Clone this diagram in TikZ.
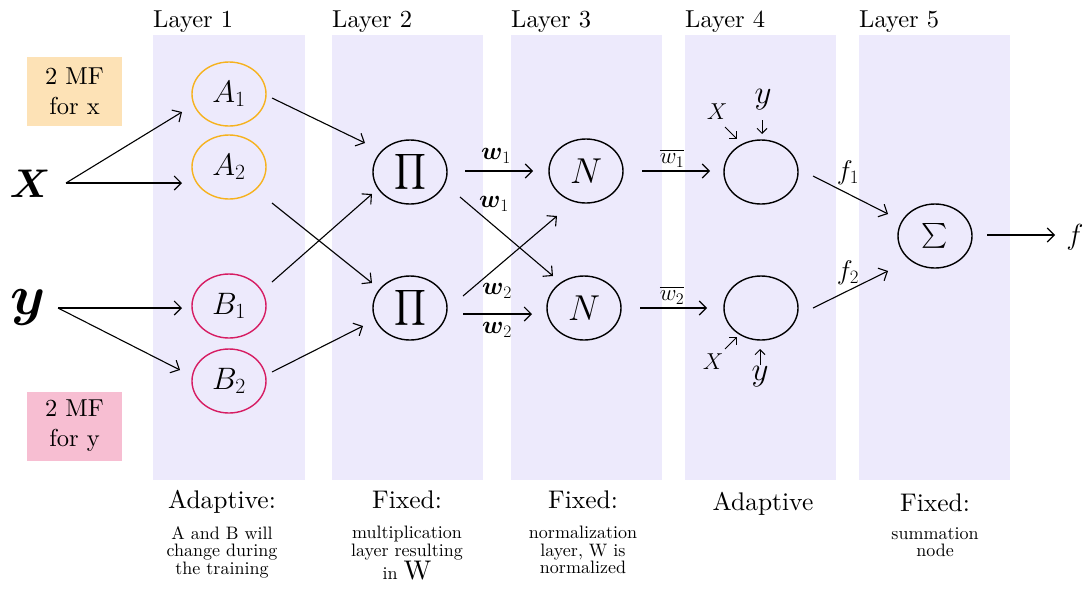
\RequirePackage{fix-cm}
\documentclass[tikz,border=0pt]{standalone}
\usepackage{amsmath}
\usepackage{fontspec}
\setmainfont{lmroman10-regular.otf}[BoldFont=lmroman10-bold.otf, ItalicFont=lmroman10-italic.otf, BoldItalicFont=lmroman10-bolditalic.otf]
\usetikzlibrary{shapes.geometric,arrows.meta,calc}
\definecolor{lav}{RGB}{237,234,252}
\definecolor{ambr}{RGB}{246,178,30}
\definecolor{crim}{RGB}{214,28,98}
\definecolor{peach}{RGB}{253,226,182}
\definecolor{rose}{RGB}{247,190,210}
\newcommand\fsz[1]{\fontsize{#1}{#1}\selectfont}
\tikzset{
  band/.style={fill=lav, draw=none},
  unit/.style={ellipse, draw, line width=1.4pt, minimum width=74pt, minimum height=64pt, inner sep=0pt},
  arr/.style={-{Straight Barb[length=7pt,width=14pt]}, line width=1.1pt},
  sarr/.style={-{Straight Barb[length=5pt,width=10pt]}, line width=1pt},
  layerlbl/.style={anchor=base west, inner sep=0pt, font=\fsz{24.5}},
  mfbox/.style={minimum width=95pt, minimum height=69pt, align=center, inner sep=0pt, font=\fontsize{24.5}{30}\selectfont},
  title/.style={anchor=base, inner sep=0pt, font=\fsz{25.5}},
  body/.style={anchor=north, inner sep=0pt, align=center, font=\fontsize{18}{17.5}\selectfont},
  elbl/.style={inner sep=0pt},
}
\begin{document}
\begin{tikzpicture}[x=1pt,y=-1pt]
\useasboundingbox (0,0) rectangle (1087,590);
% bands
\fill[band] (153,35) rectangle (305,480);
\fill[band] (332,35) rectangle (483,480);
\fill[band] (511,35) rectangle (662,480);
\fill[band] (685,35) rectangle (836,480);
\fill[band] (859,35) rectangle (1010,480);
% layer labels
\node[layerlbl] (L1lbl) at (153,27) {Layer 1};
\node[layerlbl] (L2lbl) at (332,27) {Layer 2};
\node[layerlbl] (L3lbl) at (511,27) {Layer 3};
\node[layerlbl] (L4lbl) at (685,27) {Layer 4};
\node[layerlbl] (L5lbl) at (859,27) {Layer 5};
% MF boxes
\node[mfbox, fill=peach] (mfx) at (74.5,91.5) {2 MF\\for x};
\node[mfbox, fill=rose] (mfy) at (74.5,426) {2 MF\\for y};
% inputs
\node[inner sep=0pt, font=\fsz{40}] (X) at (30,184) {$\boldsymbol{X}$};
\node[inner sep=0pt, font=\fsz{56}] (Y) at (28,307) {$\boldsymbol{y}$};
% layer 1
\node[unit, draw=ambr, font=\fsz{31}] (A1) at (229,94) {$A_{1}$};
\node[unit, draw=ambr, font=\fsz{31}] (A2) at (229,167) {$A_{2}$};
\node[unit, draw=crim, font=\fsz{31}] (B1) at (229,306) {$B_{1}$};
\node[unit, draw=crim, font=\fsz{31}] (B2) at (229,381) {$B_{2}$};
% layer 2
\node[unit, font=\fsz{29}] (P1) at (410,172) {$\displaystyle\prod$};
\node[unit, font=\fsz{29}] (P2) at (410,308) {$\displaystyle\prod$};
% layer 3
\node[unit, font=\fsz{36}] (N1) at (586,171) {$N$};
\node[unit, font=\fsz{36}] (N2) at (584,308) {$N$};
% layer 4
\node[unit] (R1) at (761,172) {};
\node[unit] (R2) at (761,308) {};
% layer 5
\node[unit, font=\fsz{34}] (S) at (935,236) {$\textstyle\sum$};
\node[inner sep=0pt, font=\fsz{29}] (F) at (1075,237) {$f$};
% small inputs of layer 4
\node[inner sep=0pt, font=\fsz{23}] (xa) at (717,112) {$X$};
\node[inner sep=0pt, font=\fsz{33}] (ya) at (763,100) {$y$};
\node[inner sep=0pt, font=\fsz{23}] (xb) at (713,362) {$X$};
\node[inner sep=0pt, font=\fsz{33}] (yb) at (760,377) {$y$};
% connectors
\draw[arr] ($(X)+(36,-1)$) -- ($(A1)+(-47,18)$);
\draw[arr] ($(X)+(36,-1)$) -- ($(A2)+(-47,16)$);
\draw[arr] ($(Y)+(30,1)$) -- ($(B1)+(-47,2)$);
\draw[arr] ($(Y)+(30,1)$) -- ($(B2)+(-49,-11)$);
\draw[arr] ($(A1)+(43,4)$) -- ($(P1)+(-45,-29)$);
\draw[arr] ($(A2)+(43,36)$) -- ($(P2)+(-38,-25)$);
\draw[arr] ($(B1)+(43,-24)$) -- ($(P1)+(-38,22)$);
\draw[arr] ($(B2)+(43,-9)$) -- ($(P2)+(-47,18)$);
\draw[arr] ($(P1)+(55,-1)$) -- ($(N1)+(-53,0)$);
\draw[arr] ($(P1)+(50,25)$) -- ($(N2)+(-31,-32)$);
\draw[arr] ($(P2)+(53,-12)$) -- ($(N1)+(-29,45)$);
\draw[arr] ($(P2)+(53,6)$) -- ($(N2)+(-52,6)$);
\draw[arr] ($(N1)+(56,0)$) -- ($(R1)+(-51,-1)$);
\draw[arr] ($(N2)+(56,0)$) -- ($(R2)+(-54,0)$);
\draw[arr] ($(R1)+(52,4)$) -- ($(S)+(-47,-22)$);
\draw[arr] ($(R2)+(52,0)$) -- ($(S)+(-47,35)$);
\draw[arr] ($(S)+(52,-1)$) -- ($(F)+(-20,-2)$);
\draw[sarr] ($(xa)+(8,15)$) -- ($(R1)+(-24,-33)$);
\draw[sarr] ($(ya)+(-1,20)$) -- ($(R1)+(1,-38)$);
\draw[sarr] ($(xb)+(12,-13)$) -- ($(R2)+(-24,29)$);
\draw[sarr] ($(yb)+(0,-12)$) -- ($(R2)+(-1,41)$);
% edge labels
\node[elbl, font=\fsz{25}] (w1a) at (496,156) {$\boldsymbol{w}_{1}$};
\node[elbl, font=\fsz{25}] (w1b) at (494,204) {$\boldsymbol{w}_{1}$};
\node[elbl, font=\fsz{25}] (w2a) at (497,291) {$\boldsymbol{w}_{2}$};
\node[elbl, font=\fsz{25}] (w2b) at (497,330) {$\boldsymbol{w}_{2}$};
\node[elbl, font=\fsz{23}] (wb1) at (672,158) {$\overline{w_{1}}$};
\node[elbl, font=\fsz{23}] (wb2) at (672,295) {$\overline{w_{2}}$};
\node[elbl, font=\fsz{27}] (f1) at (848,173) {$f_{1}$};
\node[elbl, font=\fsz{27}] (f2) at (848,273) {$f_{2}$};
% bottom texts
\node[title] (t1) at (222,508) {Adaptive:};
\node[body] (b1) at (222,526) {A and B will\\change during\\the training};
\node[title] (t2) at (407,508) {Fixed:};
\node[body] (b2) at (407,526) {multiplication\\layer resulting\\in {\fsz{27}W}};
\node[title] (t3) at (583,508) {Fixed:};
\node[body] (b3) at (583,526) {normalization\\layer, W is\\normalized};
\node[title] (t4) at (763,510) {Adaptive};
\node[title] (t5) at (935,511) {Fixed:};
\node[body] (b5) at (935,527) {summation\\node};
\end{tikzpicture}
\end{document}
